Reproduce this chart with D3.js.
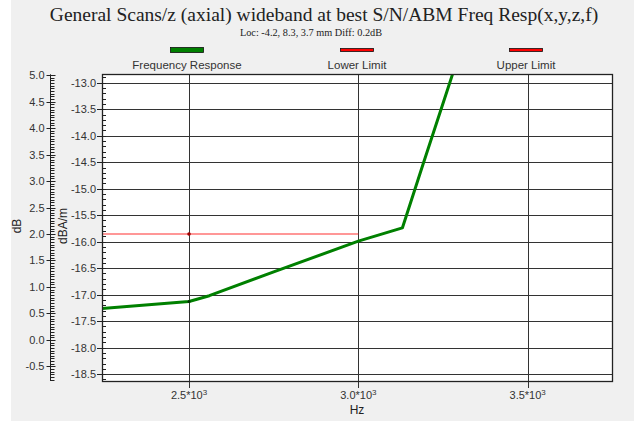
<!DOCTYPE html>
<html>
<head>
<meta charset="utf-8">
<script src="https://cdn.jsdelivr.net/npm/d3@7"></script>
<style>
  body { margin: 0; background: #fff; }
  svg { display: block; }
  .tick-label { font-family: "Liberation Sans", Arial, sans-serif; font-size: 11px; fill: #333; }
  .axis-title { font-family: "Liberation Sans", Arial, sans-serif; font-size: 12px; fill: #222; }
</style>
</head>
<body>
<div id="chart"></div>
<script>
// values
var freqHz = [2243, 2500, 2560, 2750, 3000, 3130, 3192, 3270, 3300];
var responseDbAm = [-17.26, -17.13, -17.02, -16.57, -15.99, -15.74, -14.52, -13.0, -12.4];
var lowerLimitHz = [2243, 3000];
var lowerLimitDb = [2.0, 2.0];
var xTicks = [2500, 3000, 3500];
var xTickMantissa = ["2.5", "3.0", "3.5"];
var dbTicks = [-0.5, 0.0, 0.5, 1.0, 1.5, 2.0, 2.5, 3.0, 3.5, 4.0, 4.5, 5.0];
var dbamTicks = [-18.5, -18.0, -17.5, -17.0, -16.5, -16.0, -15.5, -15.0, -14.5, -14.0, -13.5, -13.0];
var legendNames = ["Frequency Response", "Lower Limit", "Upper Limit"];
var dbOffset = 17.855; // dB = dBA/m + offset

var W = 634, H = 421;
var plot = { left: 102, right: 613, top: 74.3, bottom: 381 };

var svg = d3.select("#chart").append("svg")
    .attr("width", W)
    .attr("height", H);

// panel background
svg.append("rect").attr("x", 11).attr("y", 0).attr("width", W - 11).attr("height", H).attr("fill", "#f0f0f0");

// scales
var x = d3.scaleLinear().domain([2243, 3752]).range([plot.left, plot.right]);
var y = d3.scaleLinear().domain([-18.63, -12.84]).range([plot.bottom, plot.top]);
var yDb = d3.scaleLinear().domain([-18.63 + dbOffset, -12.84 + dbOffset]).range([plot.bottom, plot.top]);

// title
svg.append("text")
    .attr("x", 324).attr("y", 21)
    .attr("text-anchor", "middle")
    .style("font-family", "'Liberation Serif', 'Times New Roman', serif")
    .style("font-size", "19.5px")
    .attr("fill", "#222")
    .text("General Scans/z (axial) wideband at best S/N/ABM Freq Resp(x,y,z,f)");

svg.append("text")
    .attr("x", 311).attr("y", 36)
    .attr("text-anchor", "middle")
    .style("font-family", "'Liberation Serif', 'Times New Roman', serif")
    .style("font-size", "10.3px")
    .attr("fill", "#222")
    .text("Loc: -4.2, 8.3, 3.7 mm Diff: 0.2dB");

// legend
var legendX = [187, 357, 526];
var legend = svg.selectAll(".legend").data(legendNames).enter().append("g")
    .attr("class", "legend")
    .attr("transform", function(d, i) { return "translate(" + legendX[i] + ",0)"; });

legend.append("rect")
    .attr("x", -16.5).attr("width", 33)
    .attr("y", function(d, i) { return i === 0 ? 47.5 : 48.5; })
    .attr("height", function(d, i) { return i === 0 ? 5 : 3; })
    .attr("fill", function(d, i) { return i === 0 ? "#008000" : "#ff0000"; })
    .attr("stroke", "#111")
    .attr("stroke-width", 0.8);

legend.append("text")
    .attr("class", "tick-label")
    .attr("y", 69)
    .attr("text-anchor", "middle")
    .style("font-size", "11.5px")
    .attr("fill", "#222")
    .text(function(d) { return d; });

// plot area
svg.append("rect")
    .attr("x", plot.left).attr("y", plot.top)
    .attr("width", plot.right - plot.left).attr("height", plot.bottom - plot.top)
    .attr("fill", "#fff");

svg.append("clipPath").attr("id", "clip").append("rect")
    .attr("x", plot.left).attr("y", plot.top)
    .attr("width", plot.right - plot.left).attr("height", plot.bottom - plot.top);

// grid
svg.append("g").selectAll("line").data(dbamTicks).enter().append("line")
    .attr("x1", plot.left).attr("x2", plot.right)
    .attr("y1", function(d) { return Math.round(y(d)) + 0.5; })
    .attr("y2", function(d) { return Math.round(y(d)) + 0.5; })
    .attr("stroke", "#333").attr("stroke-width", 1);

svg.append("g").selectAll("line").data(xTicks).enter().append("line")
    .attr("y1", plot.top).attr("y2", plot.bottom + 7)
    .attr("x1", function(d) { return Math.round(x(d)) + 0.5; })
    .attr("x2", function(d) { return Math.round(x(d)) + 0.5; })
    .attr("stroke", "#333").attr("stroke-width", 1);

// x tick labels  (mantissa*10^3)
var xl = svg.append("g").selectAll("text").data(xTicks).enter().append("text")
    .attr("class", "tick-label")
    .attr("x", function(d) { return x(d); })
    .attr("y", 399)
    .attr("text-anchor", "middle");
xl.append("tspan").text(function(d, i) { return xTickMantissa[i] + "*10"; });
xl.append("tspan").attr("dy", -4).style("font-size", "8px").text("3");

svg.append("text").attr("class", "axis-title")
    .attr("x", 357).attr("y", 414).attr("text-anchor", "middle").text("Hz");

// right (dBA/m) axis at plot left edge
var minorDbam = d3.range(-18.6, -12.84, 0.1);
svg.append("g").selectAll("line").data(minorDbam).enter().append("line")
    .attr("x1", plot.left).attr("x2", plot.left + 4)
    .attr("y1", function(d) { return Math.round(y(d)) + 0.5; })
    .attr("y2", function(d) { return Math.round(y(d)) + 0.5; })
    .attr("stroke", "#222");
svg.append("g").selectAll("line").data(dbamTicks).enter().append("line")
    .attr("x1", plot.left - 5).attr("x2", plot.left)
    .attr("y1", function(d) { return Math.round(y(d)) + 0.5; })
    .attr("y2", function(d) { return Math.round(y(d)) + 0.5; })
    .attr("stroke", "#222");
svg.append("g").selectAll("text").data(dbamTicks).enter().append("text")
    .attr("class", "tick-label")
    .attr("x", plot.left - 6)
    .attr("y", function(d) { return y(d) + 4; })
    .attr("text-anchor", "end")
    .text(function(d) { return d3.format(".1f")(d).replace("−", "-"); });

// left (dB) axis
var axX = 50.5;
svg.append("line").attr("x1", axX).attr("x2", axX)
    .attr("y1", plot.top).attr("y2", plot.bottom).attr("stroke", "#222");
var minorDb = d3.range(-0.75, 5.02, 0.05);
svg.append("g").selectAll("line").data(minorDb).enter().append("line")
    .attr("x1", axX).attr("x2", axX + 4)
    .attr("y1", function(d) { return Math.round(yDb(d)) + 0.5; })
    .attr("y2", function(d) { return Math.round(yDb(d)) + 0.5; })
    .attr("stroke", "#222");
svg.append("g").selectAll("line").data(dbTicks).enter().append("line")
    .attr("x1", axX - 4).attr("x2", axX + 5)
    .attr("y1", function(d) { return Math.round(yDb(d)) + 0.5; })
    .attr("y2", function(d) { return Math.round(yDb(d)) + 0.5; })
    .attr("stroke", "#222");
svg.append("g").selectAll("text").data(dbTicks).enter().append("text")
    .attr("class", "tick-label")
    .attr("x", axX - 6)
    .attr("y", function(d) { return yDb(d) + 4; })
    .attr("text-anchor", "end")
    .text(function(d) { return d3.format(".1f")(d).replace("−", "-"); });

svg.append("text").attr("class", "axis-title")
    .attr("transform", "translate(21,226) rotate(-90)")
    .attr("text-anchor", "middle").text("dB");
svg.append("text").attr("class", "axis-title")
    .attr("transform", "translate(67,226) rotate(-90)")
    .attr("text-anchor", "middle").text("dBA/m");

// series
var g = svg.append("g").attr("clip-path", "url(#clip)");

var lower = lowerLimitHz.map(function(f, i) { return [f, lowerLimitDb[i]]; });
g.append("path")
    .datum(lower)
    .attr("fill", "none")
    .attr("stroke", "#ff3030")
    .attr("stroke-width", 1.2)
    .attr("d", d3.line().x(function(d) { return x(d[0]); }).y(function(d) { return yDb(d[1]); }));
g.append("circle")
    .attr("cx", x(2500)).attr("cy", yDb(lowerLimitDb[0]))
    .attr("r", 1.8).attr("fill", "#a00000");

var resp = freqHz.map(function(f, i) { return [f, responseDbAm[i]]; });
g.append("path")
    .datum(resp)
    .attr("fill", "none")
    .attr("stroke", "#008000")
    .attr("stroke-width", 3)
    .attr("stroke-linejoin", "round")
    .attr("d", d3.line().x(function(d) { return x(d[0]); }).y(function(d) { return y(d[1]); }));
g.append("circle")
    .attr("cx", x(2500)).attr("cy", y(responseDbAm[1]))
    .attr("r", 1.5).attr("fill", "#003000");

// plot border
svg.append("rect")
    .attr("x", plot.left + 0.5).attr("y", Math.round(plot.top) + 0.5)
    .attr("width", plot.right - plot.left - 1).attr("height", Math.round(plot.bottom - plot.top))
    .attr("fill", "none").attr("stroke", "#222").attr("stroke-width", 1.3);
</script>
</body>
</html>
